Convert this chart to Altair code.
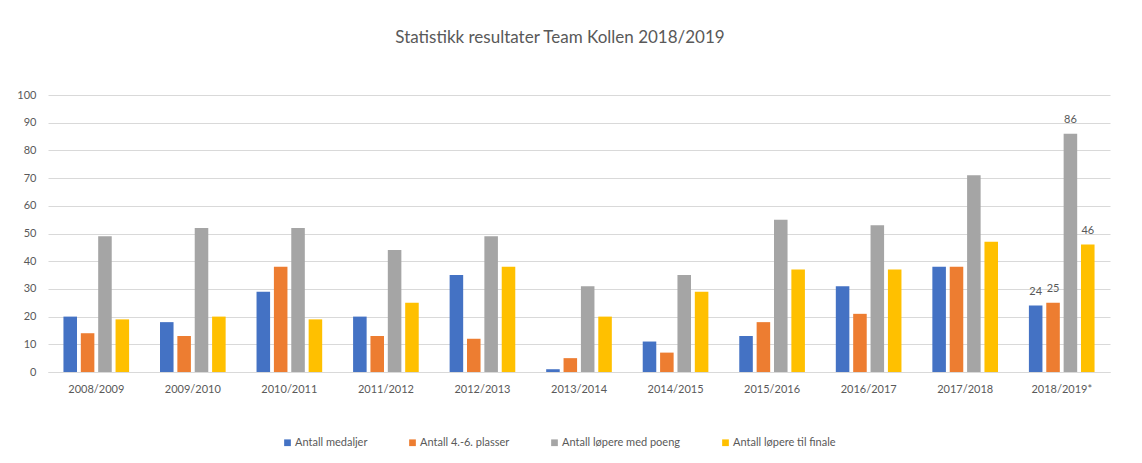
import altair as alt
import pandas as pd

seasons = ["2008/2009", "2009/2010", "2010/2011", "2011/2012", "2012/2013",
           "2013/2014", "2014/2015", "2015/2016", "2016/2017", "2017/2018", "2018/2019*"]
series = ["Antall medaljer", "Antall 4.-6. plasser", "Antall løpere med poeng", "Antall løpere til finale"]
medaljer = [20, 18, 29, 20, 35, 1, 11, 13, 31, 38, 24]
plasser = [14, 13, 38, 13, 12, 5, 7, 18, 21, 38, 25]
poeng = [49, 52, 52, 44, 49, 31, 35, 55, 53, 71, 86]
finale = [19, 20, 19, 25, 38, 20, 29, 37, 37, 47, 46]
colors = ["#4472C4", "#ED7D31", "#A5A5A5", "#FFC000"]
labelled_season = "2018/2019*"
y_ticks = [0, 10, 20, 30, 40, 50, 60, 70, 80, 90, 100]

rows = []
for s, vals in zip(series, [medaljer, plasser, poeng, finale]):
    for season, v in zip(seasons, vals):
        rows.append({"season": season, "serie": s, "value": v})
df = pd.DataFrame(rows)

FONT = "Lato"
GREY = "#595959"

y_axis = alt.Axis(values=y_ticks, labelColor=GREY, labelFontSize=11, labelFont=FONT,
                  ticks=False, domain=False, gridColor="#d9d9d9", labelPadding=12,
                  labelOverlap=False)
y_enc = alt.Y("value:Q", scale=alt.Scale(domain=[0, 100]), title=None, axis=y_axis)

base = alt.Chart(df).encode(
    x=alt.X("season:N", sort=seasons, title=None,
            scale=alt.Scale(paddingInner=0.32, paddingOuter=0.16),
            axis=alt.Axis(labelAngle=0, labelColor=GREY, labelFontSize=11, labelFont=FONT,
                          ticks=False, domainColor="#d9d9d9", labelPadding=11)),
    xOffset=alt.XOffset("serie:N", sort=series, scale=alt.Scale(paddingInner=0.22)),
    y=y_enc,
)

bars = base.mark_bar().encode(
    color=alt.Color("serie:N", sort=series, scale=alt.Scale(domain=series, range=colors),
                    legend=alt.Legend(title=None, orient="none", direction="horizontal",
                                      legendX=234, legendY=342, symbolType="square",
                                      symbolSize=45, symbolStrokeWidth=0, labelFontSize=11,
                                      labelFont=FONT, labelColor=GREY, columnPadding=39,
                                      labelOffset=2)),
)

labels = base.mark_text(dy=-14, fontSize=11, font=FONT, color=GREY).encode(
    text=alt.Text("value:Q"),
).transform_filter(alt.datum.season == labelled_season)

chart = (bars + labels).properties(
    width=1062, height=277,
    title=alt.TitleParams("Statistikk resultater Team Kollen 2018/2019", fontSize=17,
                          font=FONT, color=GREY, fontWeight="normal", offset=42, dx=-19),
    autosize=alt.AutoSizeParams(type="none"),
    padding={"left": 40, "top": 87, "right": 20, "bottom": 80},
).configure_view(stroke=None)

chart.save("out.html", embed_options={"renderer": "svg", "actions": False})
